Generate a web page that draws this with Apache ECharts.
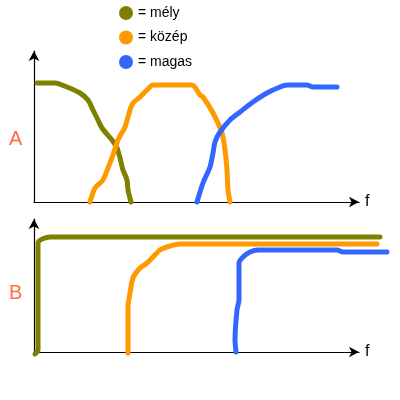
<!DOCTYPE html>
<html><head><meta charset="utf-8">
<script src="https://cdn.jsdelivr.net/npm/echarts@6/dist/echarts.min.js"></script>
<style>html,body{margin:0;padding:0;background:#fff}#c{width:400px;height:400px}</style>
</head><body><div id="c"></div>
<script>
// Legend names
const names = ['= mély', '= közép', '= magas'];
const colors = ['#808000', '#ff9900', '#3366ff'];
const panelLabels = ['A', 'B'];
const axisName = 'f';

// Panel A curves: [f, level]
const aMely = [[3,119],[21,119],[33,115],[46,109],[54,102],[59,92],[63,84],[68,74],[78,62],[83,54],[86,44],[89,32],[93,22],[94,12],[97,0]];
const aKozep = [[56,0],[61,14],[69,22],[74,34],[79,47],[84,62],[91,75],[96,92],[99,99],[106,105],[113,112],[119,117],[158,117],[166,107],[169,105],[179,89],[188,69],[191,52],[193,32],[194,12],[196,0]];
const aMagas = [[163,0],[169,19],[176,35],[179,49],[181,60],[186,70],[196,82],[206,90],[219,100],[233,109],[246,115],[253,117],[273,117],[279,115],[303,115]];

// Panel B curves
const bMely = [[1,-2],[4,2],[4,109],[16,115],[346,115]];
const bKozep = [[94,-1],[94,22],[94,45],[96,59],[99,74],[106,84],[113,89],[119,95],[126,102],[136,106],[146,108],[343,108]];
const bMagas = [[202,0],[201,12],[203,42],[205,52],[205,89],[209,95],[216,100],[224,102],[303,102],[309,100],[353,100]];

const chart = echarts.init(document.getElementById('c'), null, {renderer: 'canvas'});
const axisLine = {show: true, symbol: ['none', 'arrow'], symbolSize: [8, 10], lineStyle: {color: '#000', width: 1.2}};
const hidden = {show: false};
function xAx(i, max, visible) {
  const o = {type: 'value', gridIndex: i, min: 0, max: max, axisTick: hidden, axisLabel: hidden, splitLine: hidden};
  if (visible) {
    o.axisLine = axisLine;
    o.name = axisName; o.nameLocation = 'end'; o.nameGap = 6;
    o.nameTextStyle = {color: '#000', fontSize: 16, fontFamily: 'Liberation Sans', verticalAlign: 'middle'};
  } else { o.show = false; }
  return o;
}
function yAx(i, max, visible) {
  const o = {type: 'value', gridIndex: i, min: 0, max: max, axisTick: hidden, axisLabel: hidden, splitLine: hidden};
  if (visible) o.axisLine = axisLine; else o.show = false;
  return o;
}
function ser(name, data, i, ci) {
  return {name: name, type: 'line', xAxisIndex: i, yAxisIndex: i, data: data, showSymbol: false, smooth: 0.25, clip: false,
    lineStyle: {color: colors[ci], width: 5, cap: 'round', join: 'round'}, itemStyle: {color: colors[ci]}};
}
chart.setOption({
  animation: false,
  backgroundColor: '#fff',
  legend: {orient: 'vertical', left: 114, top: 1, icon: 'circle', itemWidth: 14, itemHeight: 14, itemGap: 10.5,
    data: names, textStyle: {color: '#000', fontSize: 14, fontFamily: 'Liberation Sans'}},
  grid: [
    {left: 34, right: 41, top: 51, bottom: 198},
    {left: 34, right: 41, top: 219, bottom: 48},
    {left: 34, right: 6, top: 51, bottom: 198},
    {left: 34, right: 6, top: 219, bottom: 48}
  ],
  xAxis: [xAx(0, 325, true), xAx(1, 325, true), xAx(2, 360, false), xAx(3, 360, false)],
  yAxis: [yAx(0, 151, true), yAx(1, 133, true), yAx(2, 151, false), yAx(3, 133, false)],
  graphic: [
    {type: 'text', left: 9, top: 129, style: {text: panelLabels[0], fill: '#ff6a3a', font: '20px "Liberation Sans"'}},
    {type: 'text', left: 9, top: 283, style: {text: panelLabels[1], fill: '#ff6a3a', font: '20px "Liberation Sans"'}}
  ],
  series: [
    ser(names[0], aMely, 2, 0), ser(names[1], aKozep, 2, 1), ser(names[2], aMagas, 2, 2),
    ser(names[0], bMely, 3, 0), ser(names[1], bKozep, 3, 1), ser(names[2], bMagas, 3, 2)
  ]
});
</script></body></html>
